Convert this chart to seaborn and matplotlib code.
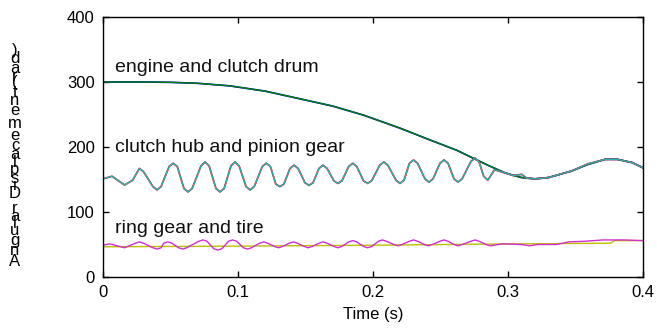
import matplotlib
matplotlib.use("Agg")
import matplotlib.pyplot as plt
import seaborn as sns
from matplotlib.textpath import TextToPath
from matplotlib.font_manager import FontProperties

# ---------------- data ----------------
engine_t = [0, 0.03, 0.05, 0.07, 0.094, 0.12, 0.144, 0.17, 0.193, 0.22, 0.242,
            0.262, 0.272, 0.285, 0.298, 0.31, 0.32, 0.33, 0.347, 0.359, 0.372,
            0.381, 0.392, 0.4]
engine_v = [300, 300, 299.5, 298, 294, 286, 275, 263, 249, 229, 211,
            195, 185, 172, 160, 153, 151, 153, 163, 173, 181,
            181, 176, 168]

hub_t = [0, 0.0067, 0.016, 0.022, 0.025, 0.027, 0.030,
         0.037, 0.040, 0.043, 0.049, 0.052, 0.055,
         0.060, 0.063, 0.066, 0.0726, 0.0756, 0.0786,
         0.0837, 0.0867, 0.0897, 0.0948, 0.0978, 0.1008,
         0.106, 0.109, 0.112, 0.118, 0.121, 0.124,
         0.128, 0.131, 0.134, 0.1385, 0.1415, 0.1445,
         0.1496, 0.1526, 0.1556, 0.160, 0.163, 0.166,
         0.171, 0.174, 0.177, 0.182, 0.185, 0.188,
         0.193, 0.196, 0.199, 0.205, 0.208, 0.211,
         0.217, 0.220, 0.223, 0.227, 0.230, 0.233,
         0.2385, 0.2415, 0.2445, 0.2496, 0.2526, 0.2556,
         0.260, 0.263, 0.266, 0.2726, 0.2756, 0.2786,
         0.282, 0.285, 0.290, 0.298, 0.304, 0.310, 0.314, 0.320, 0.330,
         0.347, 0.359, 0.372, 0.381, 0.392, 0.400]
hub_v = [151, 155, 141.5, 149, 160, 167, 162,
         139, 134, 139, 170, 175, 170,
         136, 131, 136, 171, 177, 171,
         136, 131, 136, 171, 177, 171,
         139, 134, 139, 170, 175, 170,
         143, 139, 143, 167, 172, 167,
         145, 141, 145, 167, 172, 167,
         148, 144, 148, 170, 175, 170,
         148, 144, 148, 172, 177, 172,
         149, 144, 149, 175, 180, 175,
         151, 146, 151, 175, 180, 175,
         151, 146, 151, 178, 183, 177,
         155, 149, 165, 160, 156, 158, 152, 151, 153,
         163, 174, 181, 181, 176, 168]

ring_t = [0, 0.005, 0.016, 0.024, 0.027, 0.030, 0.037, 0.040, 0.043,
          0.045, 0.048, 0.051, 0.056, 0.059, 0.062, 0.071, 0.074, 0.077,
          0.082, 0.085, 0.088, 0.093, 0.096, 0.099, 0.104, 0.107, 0.110,
          0.116, 0.119, 0.122, 0.127, 0.130, 0.133, 0.138, 0.141, 0.144,
          0.149, 0.152, 0.155, 0.160, 0.163, 0.166, 0.171, 0.174, 0.177,
          0.182, 0.185, 0.188, 0.193, 0.196, 0.199, 0.204, 0.207, 0.210,
          0.2155, 0.2185, 0.2215, 0.227, 0.230, 0.233, 0.238, 0.241, 0.244,
          0.2496, 0.2526, 0.2556, 0.260, 0.263, 0.266, 0.2726, 0.2756, 0.2786,
          0.2837, 0.2867, 0.296, 0.31, 0.316, 0.322, 0.336, 0.345, 0.357,
          0.37, 0.386, 0.4]
ring_v = [49, 51, 45, 52, 54, 52, 45, 43, 45,
          52, 54, 52, 45, 43, 45, 55, 57, 55,
          43.5, 41.5, 43.5, 55, 57, 55, 45, 43, 45,
          52, 54, 52, 47, 45, 47, 52, 54, 52,
          47, 45, 47, 52, 54, 52, 47, 45, 47,
          54, 56, 54, 47, 45, 47, 55, 57, 55,
          50, 48, 50, 55, 57, 55, 50, 48, 50,
          55, 57, 55, 50, 48, 50, 55, 57, 55,
          50, 48, 51, 50, 48, 50, 50, 54, 55,
          57, 57, 56]

tire_t = [0, 0.1, 0.207, 0.2756, 0.376, 0.379, 0.4]
tire_v = [46.5, 47.5, 49, 50.5, 52, 56, 56]

x_ticks = [0, 0.1, 0.2, 0.3, 0.4]
x_ticklabels = ["0", "0.1", "0.2", "0.3", "0.4"]
y_ticks = [0, 100, 200, 300, 400]

labels = ["engine and clutch drum", "clutch hub and pinion gear", "ring gear and tire"]
label_t = [0.009, 0.009, 0.009]
label_v = [323, 200, 75]

ylabel_text = "Angular Displacement (rad)"
xlabel_text = "Time (s)"

# ---------------- figure ----------------
sns.set_style("white")
plt.rcParams['font.family'] = ['Liberation Sans', 'DejaVu Sans']

W, H = 657, 329
fig = plt.figure(figsize=(W / 100, H / 100), dpi=100)
ax = fig.add_axes([103 / W, 52 / H, 540 / W, 260 / H])

common = dict(ax=ax, estimator=None, sort=False, legend=False)
sns.lineplot(x=engine_t, y=engine_v, color="#0000FF", lw=1.25, **common)
sns.lineplot(x=engine_t, y=engine_v, color="#007F00", lw=1.0, **common)
sns.lineplot(x=hub_t, y=hub_v, color="#FF0000", lw=1.25, **common)
sns.lineplot(x=hub_t, y=hub_v, color="#1FB5B5", lw=1.0, **common)
sns.lineplot(x=tire_t, y=tire_v, color="#BFBF00", lw=1.0, **common)
sns.lineplot(x=ring_t, y=ring_v, color="#D02ED0", lw=1.0, **common)

ax.set_xlim(0, 0.4)
ax.set_ylim(0, 400)
ax.set_xticks(x_ticks)
ax.set_xticklabels(x_ticklabels)
ax.set_yticks(y_ticks)
ax.tick_params(direction="in", length=4, width=1, top=True, right=True,
               bottom=True, left=True, labelsize=12, colors="black", pad=6)
for s in ax.spines.values():
    s.set_color("black")
    s.set_linewidth(1.0)

for txt, tx, ty in zip(labels, label_t, label_v):
    ax.text(tx, ty, txt, fontsize=14, va="center", ha="left", color="#111111")

ax.set_xlabel(xlabel_text, fontsize=12, color="black")
ax.xaxis.set_label_coords(0.5, (H - 314 - 52) / 260)
ax.xaxis.label.set_va("center")

# y label: upright characters stacked along a vertical line
prop = FontProperties(family="Liberation Sans", size=12)
ttp = TextToPath()
base = ttp.get_text_width_height_descent("xx", prop, ismath=False)[0]
widths = [ttp.get_text_width_height_descent("x" + ch + "x", prop, ismath=False)[0] - base
          for ch in ylabel_text]
total = sum(widths)
span_bottom, span_top = 268, 47
scale = (span_bottom - span_top) / total
pos = 0.0
for ch, w in zip(ylabel_text, widths):
    c = span_bottom - (pos + w / 2) * scale
    pos += w
    if ch.strip():
        fig.text(15 / W, (H - c) / H, ch, fontsize=12, ha="center", va="center",
                 color="black")

fig.savefig("out.png", dpi=100)
